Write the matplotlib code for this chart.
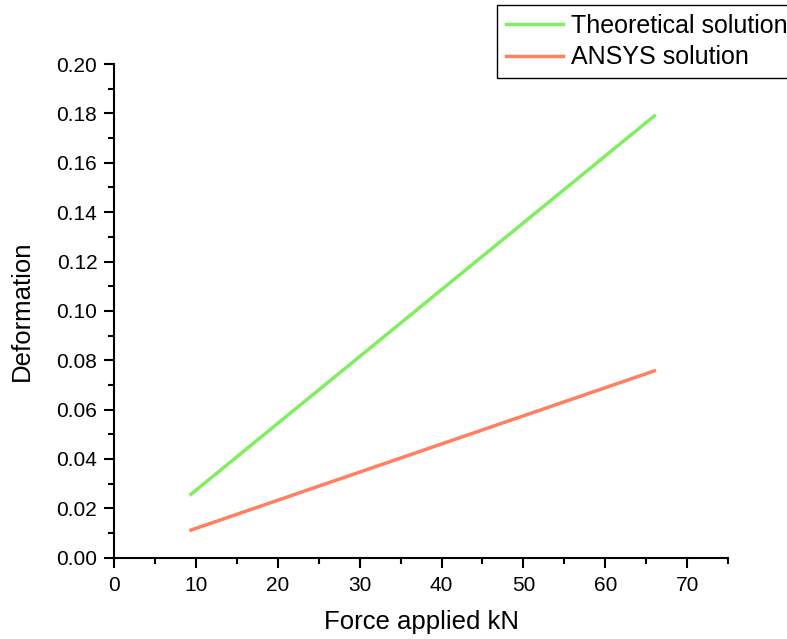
import matplotlib
matplotlib.use("Agg")
import matplotlib.pyplot as plt
from matplotlib.ticker import MultipleLocator, FormatStrFormatter

plt.rcParams['font.family'] = ['Liberation Sans', 'DejaVu Sans']

force_kn = [9.4, 66.0]
theoretical = [0.0257, 0.179]
ansys = [0.0112, 0.0757]

fig = plt.figure(figsize=(7.87, 6.39), dpi=100)
ax = fig.add_axes([0.1449, 0.1272, 0.7802, 0.7726])

ax.plot(force_kn, theoretical, color='#80EE60', lw=2.5, label='Theoretical solution')
ax.plot(force_kn, ansys, color='#FF7F5F', lw=2.5, label='ANSYS solution')

ax.set_xlim(0, 75)
ax.set_ylim(0, 0.20)
ax.xaxis.set_major_locator(MultipleLocator(10))
ax.xaxis.set_minor_locator(MultipleLocator(5))
ax.yaxis.set_major_locator(MultipleLocator(0.02))
ax.yaxis.set_minor_locator(MultipleLocator(0.01))
ax.yaxis.set_major_formatter(FormatStrFormatter('%.2f'))

for s in ['top', 'right']:
    ax.spines[s].set_visible(False)
for s in ['left', 'bottom']:
    ax.spines[s].set_linewidth(1.5)
ax.tick_params(which='major', direction='out', length=7, width=1.5, labelsize=15)
ax.tick_params(which='minor', direction='out', length=4, width=1.5)
ax.tick_params(axis='x', which='major', pad=6)
ax.tick_params(axis='y', which='major', pad=5)

ax.set_xlabel('Force applied kN', fontsize=18.5, labelpad=11)
ax.set_ylabel('Deformation', fontsize=18.5, labelpad=16)

leg = fig.legend(loc='upper left', bbox_to_anchor=(497 / 787, 1 - 5 / 639), fontsize=18,
                 frameon=True, fancybox=False, edgecolor='black', framealpha=1,
                 handlelength=2.3, borderpad=0.35, labelspacing=0.3, handletextpad=0.3,
                 borderaxespad=0)
leg.get_frame().set_linewidth(1.0)

fig.savefig('out.png', dpi=100)
